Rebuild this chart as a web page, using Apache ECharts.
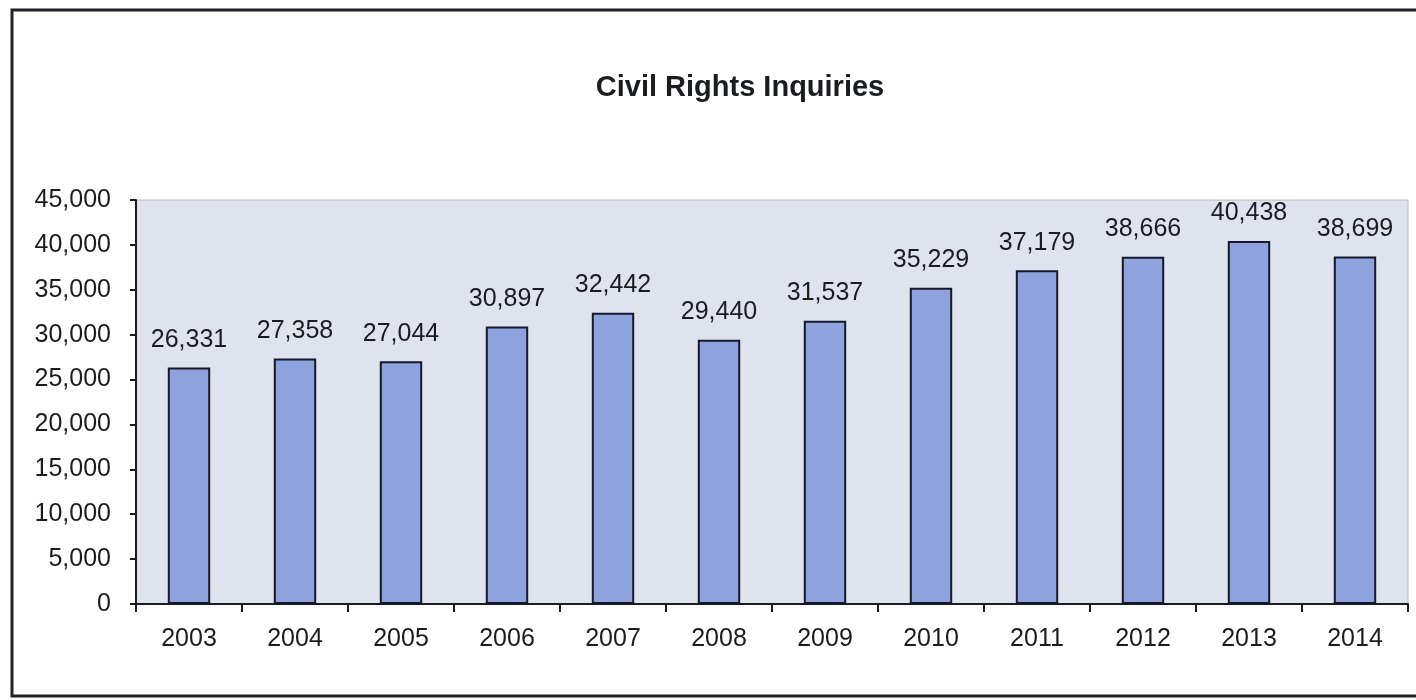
<!DOCTYPE html>
<html>
<head>
<meta charset="utf-8">
<script src="https://cdn.jsdelivr.net/npm/echarts@6/dist/echarts.min.js"></script>
<style>
  html, body { margin: 0; padding: 0; background: #ffffff; }
  #chart { width: 1416px; height: 700px; }
</style>
</head>
<body>
<div id="chart"></div>
<script>
// Yearly civil rights inquiries
const years = ['2003', '2004', '2005', '2006', '2007', '2008', '2009', '2010', '2011', '2012', '2013', '2014'];
const inquiries = [26331, 27358, 27044, 30897, 32442, 29440, 31537, 35229, 37179, 38666, 40438, 38699];

const FONT = '"Liberation Sans", Arial, sans-serif';
const INK = '#1b1b22';

const chart = echarts.init(document.getElementById('chart'), null, { renderer: 'canvas' });

chart.setOption({
  backgroundColor: '#ffffff',
  animation: false,
  title: {
    text: 'Civil Rights Inquiries',
    left: 735,
    top: 68,
    textAlign: 'center',
    textStyle: { fontFamily: FONT, fontSize: 29, fontWeight: 'bold', color: INK }
  },
  graphic: [
    {
      // outer frame around the figure
      type: 'rect',
      shape: { x: 12, y: 10, width: 1430, height: 686 },
      style: { fill: 'none', stroke: '#222228', lineWidth: 3 },
      z: 100
    }
  ],
  grid: {
    left: 136,
    right: 8,
    top: 200,
    bottom: 96,
    show: true,
    backgroundColor: '#dfe3ee',
    borderColor: '#b9bcc6',
    borderWidth: 1
  },
  xAxis: {
    type: 'category',
    data: years,
    axisLine: { show: true, lineStyle: { color: INK, width: 2 } },
    axisTick: { show: true, inside: false, length: 8, alignWithLabel: false, lineStyle: { color: INK, width: 2 } },
    axisLabel: { margin: 23, fontFamily: FONT, fontSize: 25, color: INK },
    splitLine: { show: false }
  },
  yAxis: {
    type: 'value',
    min: 0,
    max: 45000,
    interval: 5000,
    axisLine: { show: true, lineStyle: { color: INK, width: 2 } },
    axisTick: { show: true, inside: false, length: 6, lineStyle: { color: INK, width: 2 } },
    axisLabel: {
      margin: 25,
      fontFamily: FONT,
      fontSize: 25,
      color: INK,
      formatter: v => v.toLocaleString('en-US')
    },
    splitLine: { show: false }
  },
  series: [
    {
      type: 'bar',
      data: inquiries,
      barWidth: '40%',
      itemStyle: { color: '#8ea3dd', borderColor: '#14182a', borderWidth: 2 },
      label: {
        show: true,
        position: 'top',
        distance: 15,
        fontFamily: FONT,
        fontSize: 25,
        color: INK,
        formatter: p => p.value.toLocaleString('en-US')
      }
    }
  ]
});
</script>
</body>
</html>
